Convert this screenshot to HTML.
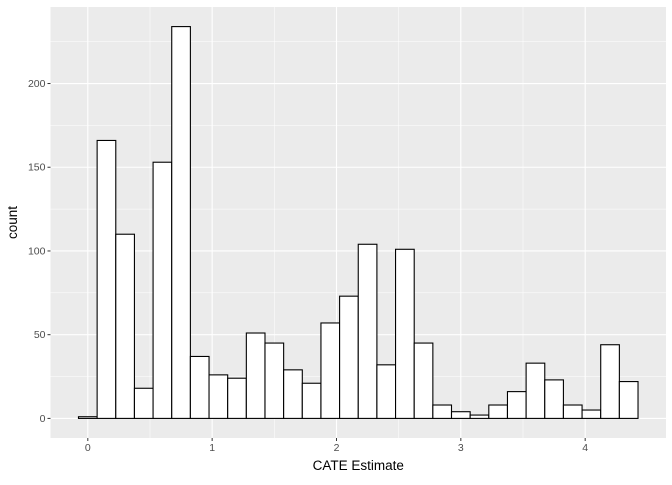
<!DOCTYPE html>
<html><head><meta charset="utf-8"><style>
body{margin:0;background:#fff;}
svg text{font-family:"Liberation Sans",sans-serif;}
</style></head><body>
<svg id="chart" width="672" height="480"></svg>
<script>
const binCenters=[0,0.15,0.3,0.45,0.6,0.75,0.9,1.05,1.2,1.35,1.5,1.65,1.8,1.95,2.1,2.25,2.4,2.55,2.7,2.85,3,3.15,3.3,3.45,3.6,3.75,3.9,4.05,4.2,4.35];
const counts=[1,166,110,18,153,234,37,26,24,51,45,29,21,57,73,104,32,101,45,8,4,2,8,16,33,23,8,5,44,22];
const binWidth=0.15;
const xTicks=[0,1,2,3,4];
const yTicks=[0,50,100,150,200];
const xMin=-0.3,xMax=4.65,yMin=-11.7,yMax=245.7;
const L=50.5,R=666,T=7,B=438;
const sx=v=>L+(v-xMin)/(xMax-xMin)*(R-L);
const sy=v=>B-(v-yMin)/(yMax-yMin)*(B-T);
const svg=document.getElementById('chart');
const NS='http://www.w3.org/2000/svg';
function mk(t,a){const e=document.createElementNS(NS,t);for(const k in a)e.setAttribute(k,a[k]);svg.appendChild(e);return e;}
let p=mk('rect',{x:L,y:T,width:R-L,height:B-T,fill:'#ebebeb'});


// minor grid
for(let i=0;i<xTicks.length-1;i++){const v=(xTicks[i]+xTicks[i+1])/2;let g=mk('line',{x1:sx(v),x2:sx(v),y1:T,y2:B,stroke:'#fff','stroke-width':0.5});

}
for(let i=0;i<yTicks.length;i++){const v=yTicks[i]+25;let g=mk('line',{x1:L,x2:R,y1:sy(v),y2:sy(v),stroke:'#fff','stroke-width':0.5});

}
xTicks.forEach(v=>{let g=mk('line',{x1:sx(v),x2:sx(v),y1:T,y2:B,stroke:'#fff','stroke-width':1.1});


let t=mk('line',{x1:sx(v),x2:sx(v),y1:B,y2:B+3,stroke:'#333'});


let l=mk('text',{x:sx(v),y:B+13,'font-size':'10.5','text-anchor':'middle',fill:'#4d4d4d'});l.textContent=v;

});
yTicks.forEach(v=>{let g=mk('line',{x1:L,x2:R,y1:sy(v),y2:sy(v),stroke:'#fff','stroke-width':1.1});


let t=mk('line',{x1:L-3,x2:L,y1:sy(v),y2:sy(v),stroke:'#333'});


let l=mk('text',{x:L-5,y:sy(v)+3.5,'font-size':'10.5','text-anchor':'end',fill:'#4d4d4d'});l.textContent=v;

});
counts.forEach((c,i)=>{const x0=sx(binCenters[i]-binWidth/2),x1=sx(binCenters[i]+binWidth/2);
let b=mk('rect',{x:x0,y:sy(c),width:x1-x0,height:sy(0)-sy(c),fill:'#fff',stroke:'#000','stroke-width':1.1});

});
let xt=mk('text',{x:(L+R)/2,y:470,'font-size':'13.5','text-anchor':'middle',fill:'#000'});xt.textContent='CATE Estimate';


let yt=mk('text',{x:0,y:0,'font-size':'13.5','text-anchor':'middle',fill:'#000',transform:`translate(17,${(T+B)/2}) rotate(-90)`});yt.textContent='count';


</script>
</body></html>
